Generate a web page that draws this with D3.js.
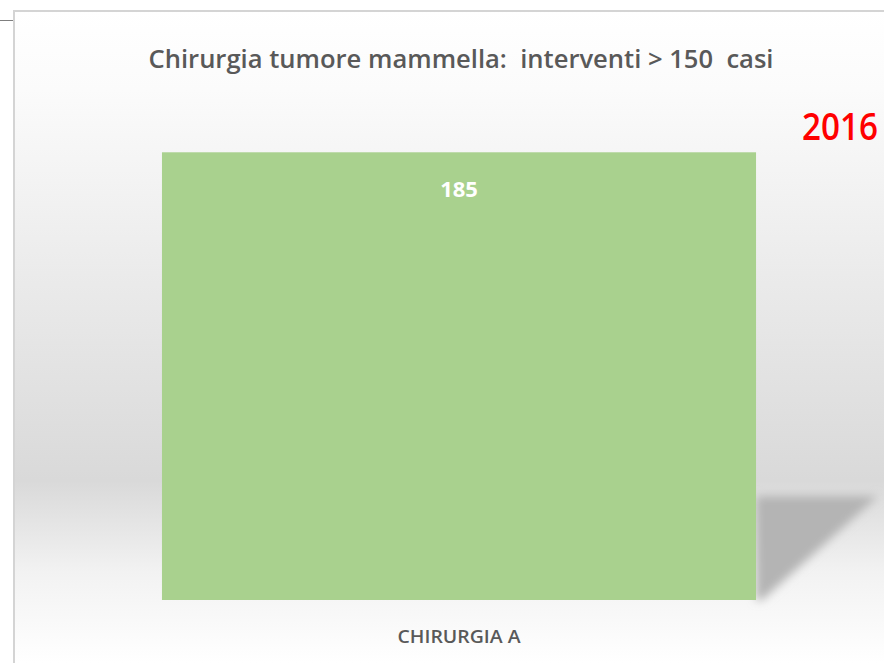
<!DOCTYPE html>
<html>
<head>
<meta charset="utf-8">
<script src="https://cdn.jsdelivr.net/npm/d3@7"></script>
<style>
  html, body { margin: 0; padding: 0; background: #fff; }
  svg { display: block; }
  text { font-family: "Open Sans", "DejaVu Sans", sans-serif; }
</style>
</head>
<body>
<div class="container"></div>
<script>
const categories = ["CHIRURGIA A"];
const values = [185];
const yearLabel = "2016";
const title = "Chirurgia tumore mammella:  interventi > 150  casi";

const width = 884, height = 663;

const svg = d3.select(".container")
    .append("svg")
        .attr("width", width)
        .attr("height", height);

const defs = svg.append("defs");

// background gradient of the chart area
const grad = defs.append("linearGradient")
    .attr("id", "bg")
    .attr("x1", 0).attr("y1", 0).attr("x2", 0).attr("y2", 1);
grad.append("stop").attr("offset", "0%").attr("stop-color", "#ffffff");
grad.append("stop").attr("offset", "12%").attr("stop-color", "#fbfbfb");
grad.append("stop").attr("offset", "72%").attr("stop-color", "#d9d9d9");
grad.append("stop").attr("offset", "86%").attr("stop-color", "#f2f2f2");
grad.append("stop").attr("offset", "100%").attr("stop-color", "#ffffff");

const blur = defs.append("filter")
    .attr("id", "blur")
    .attr("x", "-20%").attr("y", "-20%").attr("width", "140%").attr("height", "140%");
blur.append("feGaussianBlur").attr("stdDeviation", 5);

// chart area, framed on top and left only (the rest runs off the picture)
svg.append("rect")
    .attr("x", 14).attr("y", 11)
    .attr("width", width - 14).attr("height", height - 11)
    .attr("fill", "url(#bg)");

svg.append("path")
    .attr("d", `M14,${height}V11H${width}`)
    .attr("fill", "none")
    .attr("stroke", "#d4d4d4")
    .attr("stroke-width", 2);

svg.append("line")
    .attr("x1", 0).attr("x2", 13)
    .attr("y1", 20.5).attr("y2", 20.5)
    .attr("stroke", "#7f7f7f")
    .attr("stroke-width", 1);

const x = d3.scaleBand()
    .domain(categories)
    .range([37, 881])
    .padding(0.1738);

const y = d3.scaleLinear()
    .domain([0, 200])
    .range([600, 116]);

// shadow behind the bar
const shadow = svg.append("g").attr("filter", "url(#blur)");
shadow.selectAll("path")
    .data(categories)
    .join("path")
        .attr("d", (d) => {
            const x1 = x(d) + x.bandwidth();
            const y0 = y(0);
            return `M${x1},${y0 - 104}L${x1 + 122},${y0 - 104}L${x1 + 6},${y0}L${x1},${y0}Z`;
        })
        .attr("fill", "#b4b4b4");

// bars
svg.selectAll(".bar")
    .data(values)
    .join("rect")
        .attr("class", "bar")
        .attr("x", (d, i) => x(categories[i]))
        .attr("width", x.bandwidth())
        .attr("y", (d) => y(d))
        .attr("height", (d) => y(0) - y(d))
        .attr("fill", "#a9d18e");

// value labels
svg.selectAll(".val")
    .data(values)
    .join("text")
        .attr("class", "val")
        .attr("x", (d, i) => x(categories[i]) + x.bandwidth() / 2)
        .attr("y", (d) => y(d) + 45)
        .attr("text-anchor", "middle")
        .attr("fill", "#ffffff")
        .attr("font-size", 22)
        .attr("font-weight", "bold")
        .text((d) => d);

// category axis labels
svg.selectAll(".cat")
    .data(categories)
    .join("text")
        .attr("class", "cat")
        .attr("x", (d) => x(d) + x.bandwidth() / 2)
        .attr("y", 643)
        .attr("text-anchor", "middle")
        .attr("fill", "#595959")
        .attr("font-size", 18)
        .attr("font-weight", 600)
        .attr("textLength", 123)
        .attr("lengthAdjust", "spacingAndGlyphs")
        .text((d) => d);

// title
svg.append("text")
    .attr("x", 461)
    .attr("y", 68)
    .attr("text-anchor", "middle")
    .attr("fill", "#595959")
    .attr("font-size", 26)
    .attr("font-weight", 600)
    .attr("textLength", 625)
    .attr("lengthAdjust", "spacingAndGlyphs")
    .style("white-space", "pre")
    .text(title);

// year
svg.append("text")
    .attr("x", 840)
    .attr("y", 140)
    .attr("text-anchor", "middle")
    .attr("fill", "#ff0000")
    .attr("font-size", 38)
    .attr("font-weight", 600)
    .attr("textLength", 76)
    .attr("lengthAdjust", "spacingAndGlyphs")
    .text(yearLabel);
</script>
</body>
</html>
